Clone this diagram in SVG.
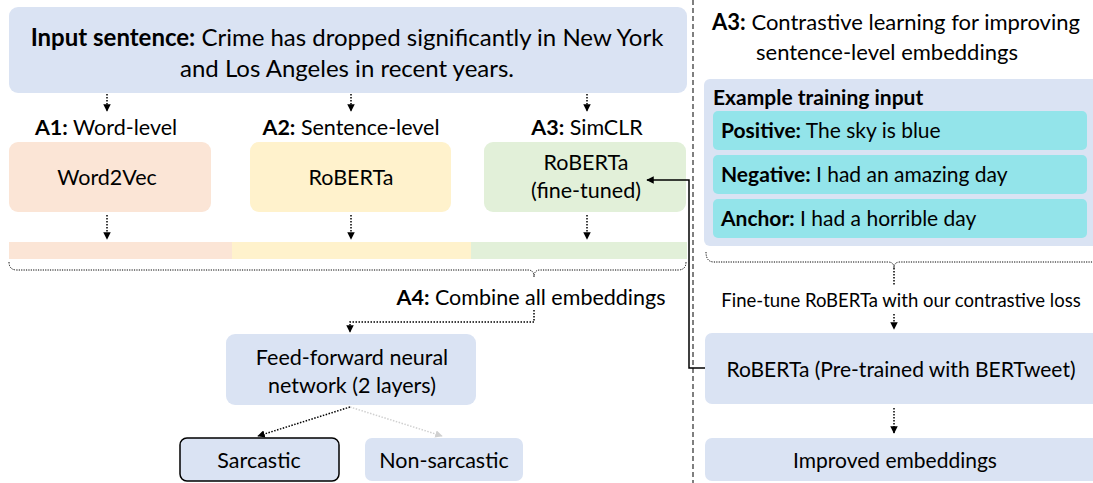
<svg xmlns="http://www.w3.org/2000/svg" width="1093" height="483" viewBox="0 0 1093 483">
<defs>
<marker id="ah" viewBox="0 0 10 10" refX="9" refY="5" markerWidth="5" markerHeight="5" orient="auto-start-reverse">
<path d="M0,0 L10,5 L0,10 z" fill="#000"/>
</marker>
<marker id="ahg" viewBox="0 0 10 10" refX="9" refY="5" markerWidth="5" markerHeight="5" orient="auto">
<path d="M0,0 L10,5 L0,10 z" fill="#d0d0d0"/>
</marker>
<style>
text{font-family:Lato,"Open Sans","Liberation Sans",sans-serif;fill:#000;}
.t{font-size:21.5px;}
.b{font-weight:bold;}
.blue{fill:#DAE3F3;}
.cyan{fill:#93E4EA;}
.dot{fill:none;stroke:#000;stroke-width:1.5;stroke-dasharray:1.5 1.5;}
.brace{fill:none;stroke:#000;stroke-width:1;stroke-dasharray:1.2 1.2;}
.solid{fill:none;stroke:#000;stroke-width:1.5;}
</style>
</defs>
<rect width="1093" height="483" fill="#fff"/>

<g id="input-sentence">
<rect x="9" y="7" width="678" height="86" rx="9" class="blue"/>
<text x="347" y="46" text-anchor="middle" font-size="24"><tspan class="b">Input sentence:</tspan> Crime has dropped significantly in New York</text>
<text x="347" y="77" text-anchor="middle" font-size="24">and Los Angeles in recent years.</text>
</g>

<g id="label-a1"><text x="106" y="135" text-anchor="middle" class="t"><tspan class="b">A1:</tspan> Word-level</text></g>
<g id="label-a2"><text x="351" y="135" text-anchor="middle" class="t"><tspan class="b">A2:</tspan> Sentence-level</text></g>
<g id="label-a3"><text x="587" y="135" text-anchor="middle" class="t"><tspan class="b">A3:</tspan> SimCLR</text></g>

<g id="word2vec">
<rect x="9" y="142" width="202" height="70" rx="9" fill="#FBE5D6"/>
<text x="107" y="185" text-anchor="middle" class="t">Word2Vec</text>
</g>
<g id="roberta">
<rect x="250" y="142" width="201" height="70" rx="9" fill="#FFF2CC"/>
<text x="351" y="185" text-anchor="middle" class="t">RoBERTa</text>
</g>
<g id="roberta-finetuned">
<rect x="484" y="142" width="202" height="70" rx="9" fill="#E2F0D9"/>
<text x="586" y="170" text-anchor="middle" class="t">RoBERTa</text>
<text x="586" y="198" text-anchor="middle" class="t">(fine-tuned)</text>
</g>

<g id="embedding-bar">
<rect x="9" y="242" width="223" height="17" fill="#FBE5D6"/>
<rect x="232" y="242" width="239" height="17" fill="#FFF2CC"/>
<rect x="471" y="242" width="216" height="17" fill="#E2F0D9"/>
</g>

<g id="label-a4"><text x="531" y="305" text-anchor="middle" class="t"><tspan class="b">A4:</tspan> Combine all embeddings</text></g>

<g id="ffn">
<rect x="226" y="334" width="250" height="71" rx="9" class="blue"/>
<text x="352" y="365" text-anchor="middle" class="t">Feed-forward neural</text>
<text x="352" y="393" text-anchor="middle" class="t">network (2 layers)</text>
</g>
<g id="sarcastic">
<rect x="180" y="438" width="159" height="43" rx="7" class="blue" stroke="#000" stroke-width="1.5"/>
<text x="259" y="468" text-anchor="middle" class="t">Sarcastic</text>
</g>
<g id="non-sarcastic">
<rect x="365" y="438" width="158" height="43" rx="7" class="blue"/>
<text x="444" y="468" text-anchor="middle" class="t">Non-sarcastic</text>
</g>

<g id="divider"><line x1="693" y1="0" x2="693" y2="483" stroke="#555" stroke-width="1.5" stroke-dasharray="5 3"/></g>

<g id="title-a3">
<text x="896" y="30" text-anchor="middle" font-size="22"><tspan class="b">A3:</tspan> Contrastive learning for improving</text>
<text x="887" y="60" text-anchor="middle" font-size="22">sentence-level embeddings</text>
</g>

<g id="example-panel">
<rect x="704" y="79" width="400" height="167" rx="6" class="blue"/>
<text x="713" y="105" font-size="21" class="b">Example training input</text>
</g>
<g id="positive">
<rect x="713" y="111" width="374" height="39" rx="5" class="cyan"/>
<text x="721" y="138" font-size="21"><tspan class="b">Positive:</tspan> The sky is blue</text>
</g>
<g id="negative">
<rect x="713" y="155" width="374" height="39" rx="5" class="cyan"/>
<text x="721" y="182" font-size="21"><tspan class="b">Negative:</tspan> I had an amazing day</text>
</g>
<g id="anchor">
<rect x="713" y="199" width="374" height="39" rx="5" class="cyan"/>
<text x="721" y="226" font-size="21"><tspan class="b">Anchor:</tspan> I had a horrible day</text>
</g>

<g id="finetune-label"><text x="901" y="307" text-anchor="middle" font-size="18.5">Fine-tune RoBERTa with our contrastive loss</text></g>

<g id="roberta-pretrained">
<rect x="705" y="333" width="400" height="71" rx="7" class="blue"/>
<text x="901" y="377" text-anchor="middle" font-size="21">RoBERTa (Pre-trained with BERTweet)</text>
</g>
<g id="improved-embeddings">
<rect x="705" y="438" width="400" height="43" rx="7" class="blue"/>
<text x="895" y="468" text-anchor="middle" font-size="21">Improved embeddings</text>
</g>

<g id="connectors">
<line x1="107" y1="94" x2="107" y2="111" class="dot" marker-end="url(#ah)"/>
<line x1="351" y1="94" x2="351" y2="111" class="dot" marker-end="url(#ah)"/>
<line x1="587" y1="94" x2="587" y2="111" class="dot" marker-end="url(#ah)"/>
<line x1="107" y1="215" x2="107" y2="239" class="dot" marker-end="url(#ah)"/>
<line x1="351" y1="215" x2="351" y2="239" class="dot" marker-end="url(#ah)"/>
<line x1="587" y1="215" x2="587" y2="239" class="dot" marker-end="url(#ah)"/>
<path d="M9,262 Q9,270 17,270 L528,270 Q534,270 534,277 Q534,270 540,270 L678,270 Q686,270 686,262" class="brace"/>
<path d="M534,310 L534,322 L350,322 L350,332" class="dot" marker-end="url(#ah)"/>
<line x1="350" y1="407" x2="258" y2="436" class="dot" marker-end="url(#ah)"/>
<line x1="350" y1="407" x2="442" y2="436" fill="none" stroke="#d0d0d0" stroke-width="1.5" stroke-dasharray="1.5 1.5" marker-end="url(#ahg)"/>
<path d="M706,252 Q706,262 714,262 L888,262 Q894,262 894,268 Q894,262 900,262 L1093,262" class="brace"/>
<line x1="894" y1="268" x2="894" y2="285" class="dot"/>
<line x1="894" y1="314" x2="894" y2="329" class="dot" marker-end="url(#ah)"/>
<line x1="894" y1="408" x2="894" y2="433" class="dot" marker-end="url(#ah)"/>
<path d="M705,368 L689,368 L689,180 L647,180" class="solid" marker-end="url(#ah)"/>
</g>
</svg>
